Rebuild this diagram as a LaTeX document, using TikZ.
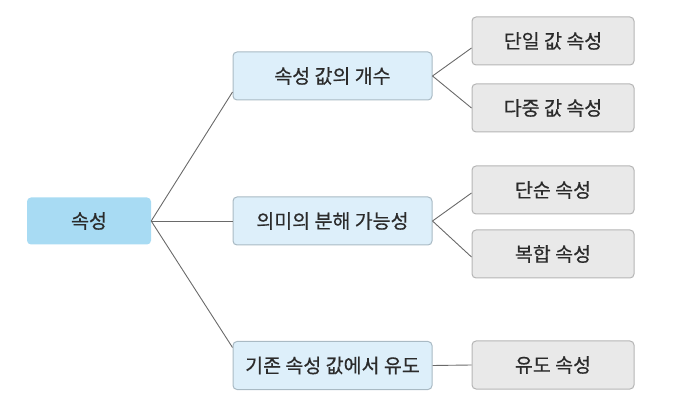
\documentclass[tikz,border=0pt]{standalone}
\usepackage{fontspec}
\setmainfont{Noto Sans CJK KR}[FakeBold=0.6]
\usepackage{tikz}
\usetikzlibrary{calc}

\definecolor{rootfill}{HTML}{A8DBF3}
\definecolor{midfill}{HTML}{DDEFFA}
\definecolor{midline}{HTML}{A9BAC4}
\definecolor{leaffill}{HTML}{E9E9E9}
\definecolor{leafline}{HTML}{B5B5B5}
\definecolor{linkcol}{HTML}{6A6A6A}
\definecolor{txtcol}{HTML}{2B2B2B}

\begin{document}
\begin{tikzpicture}[x=1pt, y=1pt,
    box/.style={rounded corners=4pt, inner sep=0pt, minimum height=48pt, text=txtcol, font=\fontsize{19.5}{22}\selectfont},
    rootbox/.style={box, fill=rootfill, minimum width=124pt, minimum height=47pt},
    midbox/.style={box, fill=midfill, draw=midline, line width=1pt, minimum width=199pt},
    leafbox/.style={box, fill=leaffill, draw=leafline, line width=1pt, minimum width=162pt},
    link/.style={draw=linkcol, line width=0.9pt}]
  \useasboundingbox (0,0) rectangle (682,412);

  \node [rootbox] at (89,191) (attr) {속성};

  \node [midbox] at (332.5,336) (count) {속성 값의 개수};
  \node [midbox] at (332.5,191) (split) {의미의 분해 가능성};
  \node [midbox] at (332.5,46.5) (derive) {기존 속성 값에서 유도};

  \node [leafbox] at (553,371) (single) {단일 값 속성};
  \node [leafbox] at (553,304) (multi) {다중 값 속성};
  \node [leafbox] at (553,222) (simple) {단순 속성};
  \node [leafbox] at (553,158) (composite) {복합 속성};
  \node [leafbox] at (553,47) (derived) {유도 속성};

  % root to middle
  \draw [link] (attr.east) -- ($(count.west)+(0,-16)$);
  \draw [link] (attr.east) -- (split.west);
  \draw [link] (attr.east) -- ($(derive.west)+(0,18)$);

  % middle to leaves
  \draw [link] (count.east) -- ($(single.west)+(0,-7)$);
  \draw [link] (count.east) -- (multi.west);
  \draw [link] (split.east) -- ($(simple.west)+(0,-3)$);
  \draw [link] (split.east) -- ($(composite.west)+(0,-3)$);
  \draw [link] (derive.east) -- (derived.west);
\end{tikzpicture}
\end{document}
